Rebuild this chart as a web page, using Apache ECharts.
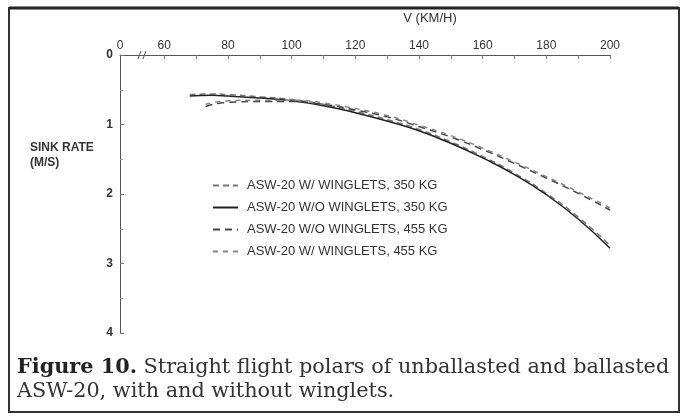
<!DOCTYPE html>
<html>
<head>
<meta charset="utf-8">
<script src="https://cdn.jsdelivr.net/npm/echarts@6/dist/echarts.min.js"></script>
<style>
  html, body { margin: 0; padding: 0; background: #fff; }
  #chart { width: 688px; height: 416px; }
</style>
</head>
<body>
<div id="chart"></div>
<script>
// speeds (km/h) and sink rates (m/s)
const speeds350 = [68, 75, 80, 90, 100, 110, 120, 130, 140, 150, 160, 170, 180, 190, 200];
const sinkWith350 = [0.57, 0.56, 0.57, 0.60, 0.64, 0.71, 0.81, 0.93, 1.07, 1.25, 1.46, 1.70, 1.99, 2.33, 2.74];
const sinkWithout350 = [0.59, 0.58, 0.59, 0.62, 0.66, 0.73, 0.83, 0.95, 1.09, 1.27, 1.48, 1.72, 2.01, 2.36, 2.78];
const speeds455 = [73, 80, 90, 100, 110, 120, 130, 140, 150, 160, 170, 180, 190, 200];
const sinkWithout455 = [0.74, 0.68, 0.67, 0.67, 0.71, 0.79, 0.89, 1.03, 1.18, 1.36, 1.56, 1.77, 1.99, 2.23];
const sinkWith455 = [0.71, 0.66, 0.65, 0.65, 0.69, 0.77, 0.87, 1.01, 1.16, 1.34, 1.54, 1.75, 1.97, 2.20];

const seriesNames = [
  'ASW-20 W/ WINGLETS, 350 KG',
  'ASW-20 W/O WINGLETS, 350 KG',
  'ASW-20 W/O WINGLETS, 455 KG',
  'ASW-20 W/ WINGLETS, 455 KG'
];

const xMin = 46.1;          // left end of the broken axis (labelled "0")
const xLabels = [60, 80, 100, 120, 140, 160, 180, 200];
const xTicks = [60, 70, 80, 90, 100, 110, 120, 130, 140, 150, 160, 170, 180, 190, 200];

const pairs = (xs, ys) => xs.map((x, i) => [x, ys[i]]);

const chart = echarts.init(document.getElementById('chart'));
const font = 'Liberation Sans, Arial, sans-serif';
const serif = 'DejaVu Serif, Liberation Serif, serif';

function line(name, data, color, type, width) {
  return {
    name: name,
    type: 'line',
    data: data,
    smooth: true,
    symbol: 'none',
    showSymbol: false,
    lineStyle: { color: color, type: type, width: width },
    itemStyle: { color: color }
  };
}

chart.setOption({
  animation: false,
  backgroundColor: '#fff',
  grid: { left: 120, right: 78, top: 55, bottom: 83 },
  legend: {
    orient: 'vertical',
    left: 207,
    top: 174,
    itemWidth: 25,
    itemHeight: 8,
    itemGap: 9,
    itemStyle: { opacity: 0 },
    textStyle: { fontFamily: font, fontSize: 13, color: '#333', padding: [0, 0, 0, 4] },
    data: seriesNames
  },
  xAxis: {
    type: 'value',
    position: 'top',
    min: xMin,
    max: 200,
    name: 'V (KM/H)',
    nameLocation: 'middle',
    nameGap: 30,
    nameTextStyle: { fontFamily: font, fontSize: 13, color: '#333', padding: [0, 0, 0, 130] },
    axisLine: { lineStyle: { color: '#555', width: 1 } },
    axisTick: { inside: true, length: 4, customValues: xTicks, lineStyle: { color: '#777' } },
    axisLabel: {
      customValues: [xMin].concat(xLabels),
      formatter: v => (v < 50 ? '0' : String(v)),
      fontFamily: font, fontSize: 12, color: '#333', margin: 3
    },
    splitLine: { show: false }
  },
  yAxis: {
    type: 'value',
    inverse: true,
    min: 0,
    max: 4,
    interval: 1,
    axisLine: { show: true, lineStyle: { color: '#555', width: 1 } },
    axisTick: { show: true, inside: true, length: 4, lineStyle: { color: '#777' } },
    minorTick: { show: true, splitNumber: 2, length: 3, lineStyle: { color: '#999' } },
    axisLabel: { fontFamily: font, fontSize: 12, fontWeight: 'bold', color: '#333', margin: 7 },
    splitLine: { show: false }
  },
  series: [
    line(seriesNames[0], pairs(speeds350, sinkWith350), '#777', [6, 4], 1.5),
    line(seriesNames[1], pairs(speeds350, sinkWithout350), '#222', 'solid', 1.5),
    line(seriesNames[2], pairs(speeds455, sinkWithout455), '#444', [7, 5], 1.5),
    line(seriesNames[3], pairs(speeds455, sinkWith455), '#888', [5, 5], 1.5)
  ]
});

// decorations: frame, y-axis title, caption, axis break mark
const bx = chart.convertToPixel({ xAxisIndex: 0 }, 53);
const by = chart.convertToPixel({ yAxisIndex: 0 }, 0);
chart.setOption({
  graphic: [
    { type: 'rect', shape: { x: 9, y: 8, width: 670, height: 404 },
      style: { fill: null, stroke: '#333', lineWidth: 2 } },
    { type: 'line', shape: { x1: 9, y1: 8, x2: 679, y2: 8 }, style: { stroke: '#222', lineWidth: 3 } },
    { type: 'text', left: 30, top: 140,
      style: { text: 'SINK RATE\n(M/S)', font: 'bold 12px ' + font, fill: '#333', align: 'center',
               lineHeight: 15, width: 60 } },
    { type: 'rect', shape: { x: bx - 5, y: by - 4, width: 10, height: 8 }, style: { fill: '#fff' } },
    { type: 'line', shape: { x1: bx - 4, y1: by + 4, x2: bx - 1, y2: by - 4 }, style: { stroke: '#555', lineWidth: 1 } },
    { type: 'line', shape: { x1: bx + 1, y1: by + 4, x2: bx + 4, y2: by - 4 }, style: { stroke: '#555', lineWidth: 1 } },
    { type: 'text', left: 17, top: 356,
      style: {
        text: '{b|Figure 10.} Straight flight polars of unballasted and ballasted\nASW-20, with and without winglets.',
        rich: { b: { fontWeight: 'bold', fontFamily: serif, fontSize: 20.8, fill: '#222' } },
        fontFamily: serif, fontSize: 20.8, fill: '#333', lineHeight: 24
      } }
  ]
});
</script>
</body>
</html>
